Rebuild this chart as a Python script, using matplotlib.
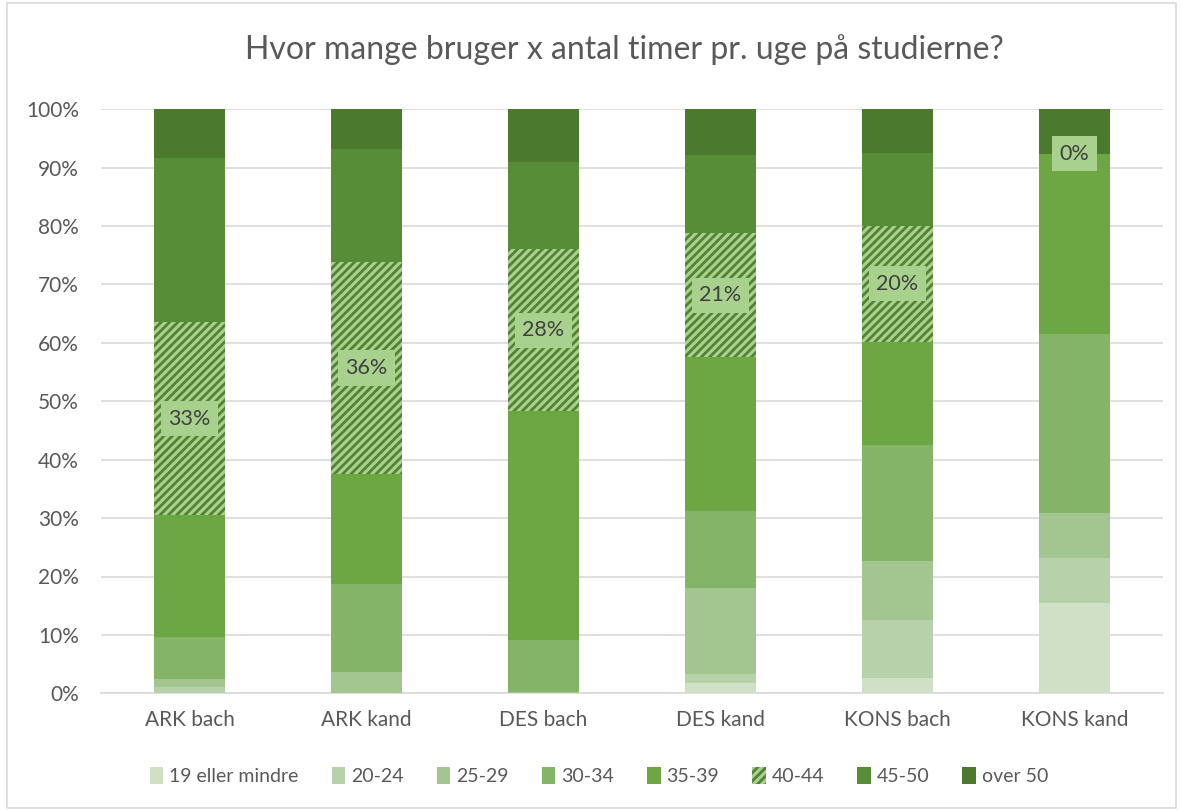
import numpy as np
import matplotlib.pyplot as plt
from matplotlib.patches import Rectangle

plt.rcParams['font.family'] = ['Lato', 'DejaVu Sans']
plt.rcParams['hatch.linewidth'] = 2.0

# Categories and shares (%) per hour group
categories = ["ARK bach", "ARK kand", "DES bach", "DES kand", "KONS bach", "KONS kand"]
groups = ["19 eller mindre", "20-24", "25-29", "30-34", "35-39", "40-44", "45-50", "over 50"]

under_19 = [0.0, 0.0, 0.0, 1.7, 2.6, 15.4]
h20_24 = [1.1, 0.0, 0.0, 1.6, 9.9, 7.7]
h25_29 = [1.3, 3.6, 0.3, 14.8, 10.2, 7.7]
h30_34 = [7.3, 15.2, 8.9, 13.2, 19.9, 30.8]
h35_39 = [20.8, 18.7, 39.1, 26.2, 17.5, 30.8]
h40_44 = [33.0, 36.4, 27.7, 21.3, 20.0, 0.0]
h45_50 = [28.1, 19.3, 14.9, 13.3, 12.5, 0.0]
over_50 = [8.4, 6.8, 9.1, 7.9, 7.4, 7.6]

series = [under_19, h20_24, h25_29, h30_34, h35_39, h40_44, h45_50, over_50]
colors = ["#D0E0C6", "#B7D2AA", "#A3C590", "#84B467", "#6CA744", "#A9D18E", "#578D37", "#4B7A2F"]
hatch_idx = 5
label_bg = "#A9D18E"
text_col = "#595959"

fig = plt.figure(figsize=(11.81, 8.11), dpi=100)
ax = fig.add_axes([101 / 1181, 1 - 693.3 / 811, (1163 - 101) / 1181, (693.3 - 109.3) / 811])

# outer border
fig.patches.append(Rectangle((0.006, 0.004), 0.99, 0.992, transform=fig.transFigure,
                             fill=False, edgecolor="#D9D9D9", linewidth=1.2))

x = np.arange(len(categories))
bottom = np.zeros(len(categories))
handles = []
for i, (vals, col, name) in enumerate(zip(series, colors, groups)):
    v = np.array(vals) / 100
    if i == hatch_idx:
        b = ax.bar(x, v, 0.4, bottom=bottom, color=col, edgecolor="#548235",
                   hatch="////", linewidth=0, label=name, zorder=3)
        for xi, bi, vi in zip(x, bottom, v):
            ax.text(xi, bi + vi / 2, f"{vi * 100:.0f}%", ha="center", va="center",
                    fontsize=15.5, color="#404040", zorder=5,
                    bbox=dict(boxstyle="square,pad=0.35", facecolor=label_bg, edgecolor="none"))
    else:
        b = ax.bar(x, v, 0.4, bottom=bottom, color=col, linewidth=0, label=name, zorder=3)
    handles.append(b)
    bottom += v

ax.set_xlim(-0.5, len(categories) - 0.5)
ax.set_ylim(0, 1)
ax.set_yticks(np.arange(0, 1.01, 0.1))
ax.set_yticklabels([f"{t}%" for t in range(0, 101, 10)])
ax.set_xticks(x)
ax.set_xticklabels(categories)
ax.tick_params(axis="both", length=0, labelsize=15, colors=text_col)
ax.tick_params(axis="y", pad=16)
ax.tick_params(axis="x", pad=12)
ax.grid(axis="y", color="#D9D9D9", linewidth=1.2, zorder=0)
for s in ["top", "right", "left"]:
    ax.spines[s].set_visible(False)
ax.spines["bottom"].set_color("#D9D9D9")
ax.spines["bottom"].set_linewidth(1.2)

fig.text(624 / 1181, 1 - 50 / 811, "Hvor mange bruger x antal timer pr. uge på studierne?",
         ha="center", va="center", fontsize=23, color=text_col)

leg = fig.legend(handles=handles, labels=groups, loc="center", bbox_to_anchor=(599 / 1181, 1 - 776 / 811),
                 ncol=8, frameon=False, fontsize=14, handlelength=0.7, handleheight=1.0,
                 handletextpad=0.3, columnspacing=1.7)
for t in leg.get_texts():
    t.set_color(text_col)

fig.savefig("out.png", dpi=100)
